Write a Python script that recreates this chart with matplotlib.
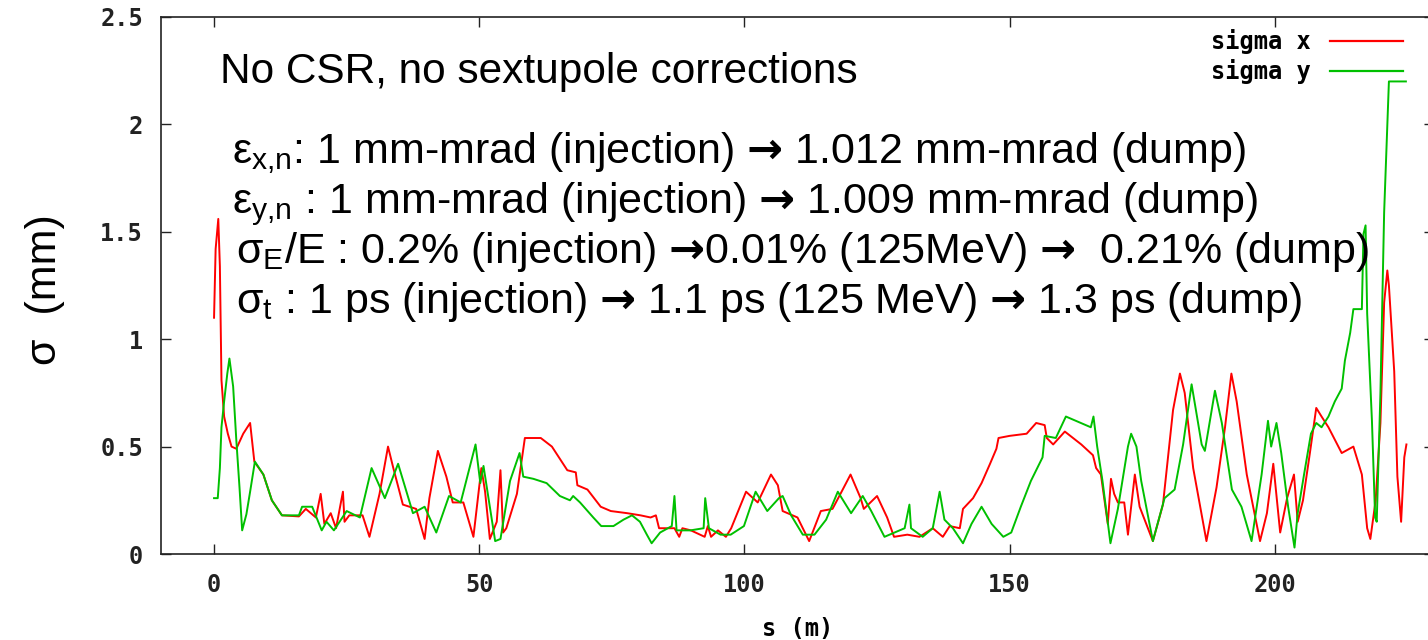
import matplotlib
matplotlib.use("Agg")
import matplotlib.pyplot as plt

# sigma x / sigma y along the beamline (s in m, sigma in mm)
sx_s = [0, 0.3, 0.8, 1.1, 1.4, 1.9, 2.6, 3.3, 4.2, 5.5, 6.8, 7.6, 9.3, 10.9, 12.8, 16, 17.3,
        19.2, 20.1, 20.8, 22, 23, 24.3, 24.6, 25.5, 28, 29.3, 31.2, 32.8, 33.8, 35.6, 38.1,
        39.7, 40.6, 42.2, 43.8, 45, 47, 48.9, 50.4, 51.1, 52, 53.3, 54.0, 54.5, 55.1, 57.1,
        58.6, 61.6, 63.7, 66.6, 68.2, 68.5, 70.4, 72.9, 74.8, 77.9, 80.4, 82.3, 83.3, 83.9,
        86.8, 87.7, 88.3, 89.9, 92.5, 93.1, 93.7, 95, 96.5, 97.5, 100.3, 102.5, 105, 106.3,
        107.2, 110, 112.2, 114.4, 116.6, 118.1, 120, 121.9, 122.5, 125, 126.9, 128.2, 130.7,
        133, 135.5, 137.4, 138.7, 140.6, 141.2, 143.1, 144.7, 146.3, 147.5, 147.9, 150, 153.2,
        155, 156.6, 157, 158.2, 160.4, 163.5, 165.7, 166.3, 167.2, 168.5, 169.1, 169.7, 170.4,
        171.6, 172.3, 173.6, 174.5, 177, 178.9, 180.8, 182.1, 183, 184.6, 187.1, 189, 190.6,
        191.8, 192.8, 194.7, 197.2, 198.5, 199.7, 201, 202.3, 203.6, 204.3, 205.3, 206.6,
        207.8, 208.8, 210.1, 212.6, 214.8, 216.4, 217.4, 218, 219, 219.9, 220.6, 221.2, 221.5,
        222.5, 223.1, 223.8, 224.4, 224.8]
sx_v = [1.10, 1.42, 1.56, 1.34, 0.81, 0.64, 0.56, 0.50, 0.49, 0.56, 0.61, 0.43, 0.37, 0.25,
        0.18, 0.175, 0.21, 0.17, 0.28, 0.14, 0.19, 0.12, 0.29, 0.15, 0.18, 0.18, 0.08, 0.28,
        0.50, 0.40, 0.23, 0.21, 0.07, 0.26, 0.48, 0.36, 0.24, 0.24, 0.08, 0.40, 0.29, 0.07,
        0.15, 0.39, 0.10, 0.12, 0.28, 0.54, 0.54, 0.50, 0.39, 0.38, 0.32, 0.30, 0.22, 0.20,
        0.19, 0.18, 0.17, 0.18, 0.12, 0.12, 0.08, 0.12, 0.11, 0.08, 0.13, 0.08, 0.11, 0.08,
        0.12, 0.29, 0.24, 0.37, 0.32, 0.20, 0.17, 0.06, 0.20, 0.21, 0.28, 0.37, 0.26, 0.21,
        0.27, 0.17, 0.08, 0.09, 0.08, 0.12, 0.08, 0.13, 0.12, 0.21, 0.26, 0.33, 0.42, 0.49,
        0.54, 0.55, 0.56, 0.61, 0.60, 0.54, 0.51, 0.57, 0.51, 0.46, 0.40, 0.37, 0.14, 0.35,
        0.28, 0.24, 0.24, 0.09, 0.37, 0.22, 0.06, 0.23, 0.67, 0.84, 0.75, 0.40, 0.06, 0.31,
        0.59, 0.84, 0.71, 0.37, 0.06, 0.19, 0.42, 0.10, 0.26, 0.37, 0.15, 0.25, 0.47, 0.68,
        0.64, 0.59, 0.47, 0.50, 0.37, 0.12, 0.07, 0.25, 0.61, 1.17, 1.32, 1.25, 0.85, 0.36,
        0.15, 0.45, 0.51]

sy_s = [0, 0.7, 1.1, 1.4, 1.9, 2.5, 2.9, 3.6, 4.2, 4.8, 5.3, 6.1, 6.8, 7.7, 9.3, 10.9, 12.8,
        16, 16.6, 18.5, 20.3, 21.2, 22.6, 25, 27.5, 29.7, 32.2, 34.7, 37.5, 39.7, 41.9, 44.3,
        46.5, 49.3, 50.2, 50.8, 53, 54, 55.8, 57.6, 58.3, 60.2, 62.7, 65.2, 67.1, 67.7, 69,
        71.5, 73, 75.3, 77.2, 78.8, 80.3, 81.6, 82.5, 84.1, 86.3, 86.8, 87.2, 89.8, 92.3,
        92.6, 93.3, 95.5, 97.4, 99.9, 102.1, 104.3, 106.5, 107.2, 108.8, 111, 113.2, 115.4,
        117.6, 120.1, 122.3, 123.9, 126.4, 128.3, 130.2, 131.1, 131.4, 133.6, 135.5, 136.8,
        137.7, 139.3, 141.2, 142.8, 144.7, 146.6, 148.8, 150.3, 152.1, 154, 156.2, 156.6,
        158.7, 160.6, 165.3, 165.8, 166.5, 167.5, 169, 170.4, 172.3, 172.9, 173.9, 174.8,
        177, 179.2, 181.1, 182.7, 184.3, 186.2, 186.8, 188.7, 190, 191.9, 193.7, 195.6,
        197.5, 198.7, 199.3, 200.3, 201.2, 202.5, 203.7, 204.3, 205.5, 206.8, 207.8, 208.8,
        210.1, 211.3, 212.6, 213.2, 214.2, 214.8, 216.4, 216.7, 217.1, 217.4, 218.3, 218.9,
        219.2, 219.9, 220.6, 221.2, 221.5, 222.5, 224.7]
sy_v = [0.26, 0.26, 0.40, 0.59, 0.71, 0.84, 0.91, 0.78, 0.53, 0.31, 0.11, 0.185, 0.29, 0.43,
        0.37, 0.25, 0.18, 0.18, 0.22, 0.22, 0.11, 0.15, 0.11, 0.20, 0.17, 0.40, 0.26, 0.42,
        0.19, 0.22, 0.10, 0.27, 0.24, 0.51, 0.33, 0.41, 0.06, 0.07, 0.34, 0.47, 0.36, 0.35,
        0.33, 0.27, 0.25, 0.27, 0.24, 0.17, 0.13, 0.13, 0.16, 0.18, 0.15, 0.09, 0.05, 0.10,
        0.13, 0.27, 0.11, 0.11, 0.12, 0.26, 0.12, 0.09, 0.09, 0.13, 0.29, 0.20, 0.26, 0.27,
        0.18, 0.09, 0.09, 0.16, 0.29, 0.19, 0.27, 0.20, 0.08, 0.10, 0.12, 0.23, 0.12, 0.08,
        0.12, 0.29, 0.16, 0.12, 0.05, 0.14, 0.22, 0.14, 0.08, 0.10, 0.22, 0.34, 0.45, 0.55,
        0.54, 0.64, 0.59, 0.64, 0.50, 0.34, 0.05, 0.21, 0.50, 0.56, 0.50, 0.34, 0.06, 0.26,
        0.30, 0.51, 0.79, 0.51, 0.48, 0.76, 0.61, 0.30, 0.22, 0.06, 0.37, 0.62, 0.50, 0.61,
        0.47, 0.22, 0.03, 0.19, 0.37, 0.56, 0.61, 0.59, 0.64, 0.71, 0.77, 0.90, 1.03, 1.14,
        1.14, 1.49, 1.53, 1.12, 0.62, 0.17, 0.15, 0.75, 1.59, 1.99, 2.20, 2.20, 2.20]

xticks = [0, 50, 100, 150, 200]
yticks = [0, 0.5, 1, 1.5, 2, 2.5]
ytick_labels = ["0", "0.5", "1", "1.5", "2", "2.5"]

ARROW = r"$\mathsf{→}$"
notes = [
    "ε$_{x{,}n}$: 1 mm-mrad (injection) " + ARROW + " 1.012 mm-mrad (dump)",
    "ε$_{y{,}n}$ : 1 mm-mrad (injection) " + ARROW + " 1.009 mm-mrad (dump)",
    "σ$_{E}$/E : 0.2% (injection) " + ARROW + "0.01% (125MeV) " + ARROW + "  0.21% (dump)",
    "σ$_{t}$ : 1 ps (injection) " + ARROW + " 1.1 ps (125 MeV) " + ARROW + " 1.3 ps (dump)",
]

plt.rcParams["mathtext.fontset"] = "custom"
plt.rcParams["mathtext.rm"] = "Liberation Sans"
plt.rcParams["mathtext.it"] = "Liberation Sans"
plt.rcParams["mathtext.bf"] = "Liberation Sans"
plt.rcParams["mathtext.sf"] = "DejaVu Sans:bold"

W, H = 1428, 640
fig = plt.figure(figsize=(W / 100, H / 100), dpi=100)
ax = fig.add_axes([161 / W, 86 / H, 1273 / W, 537 / H])

ax.plot(sx_s, sx_v, color="#ff0000", lw=1.4, label="sigma x")
ax.plot(sy_s, sy_v, color="#00c000", lw=1.4, label="sigma y")

ax.set_xlim(-10, 230)
ax.set_ylim(0, 2.5)

mono = {"family": "DejaVu Sans Mono", "weight": "bold", "size": 17}
ax.set_xticks(xticks)
ax.set_xticklabels([str(t) for t in xticks], fontdict=mono)
ax.set_yticks(yticks)
ax.set_yticklabels(ytick_labels, fontdict=mono)
ax.tick_params(direction="in", length=7, width=1, top=True, right=True,
               colors="#222222")
ax.tick_params(axis="x", pad=14)
ax.tick_params(axis="y", pad=13)
for sp in ax.spines.values():
    sp.set_color("#222222")
    sp.set_linewidth(1.2)

ax.set_xlabel("s (m)", fontdict=mono, labelpad=14)
fig.text(45 / W, 1 - 290 / H, "σ  (mm)", rotation=90, ha="center", va="center",
         family="Liberation Sans", fontsize=31)

leg = ax.legend(loc="upper right", markerfirst=False, frameon=False,
                bbox_to_anchor=(1403 / W, 1 - 29 / H), bbox_transform=fig.transFigure,
                borderpad=0, borderaxespad=0, handlelength=3.1, handletextpad=0.8,
                labelspacing=0.23, prop=mono)
for line in leg.get_lines():
    line.set_linewidth(1.6)

# annotations over the plot area
fig.text(220 / W, 1 - 83 / H, "No CSR, no sextupole corrections",
         family="Liberation Sans", fontsize=30.5, va="baseline")
note_x = [232, 232, 236, 236]
note_y = [163, 213, 263, 313]
for t, x, y in zip(notes, note_x, note_y):
    fig.text(x / W, 1 - y / H, t, family="Liberation Sans", fontsize=31, va="baseline")

fig.savefig("out.png", dpi=100)
